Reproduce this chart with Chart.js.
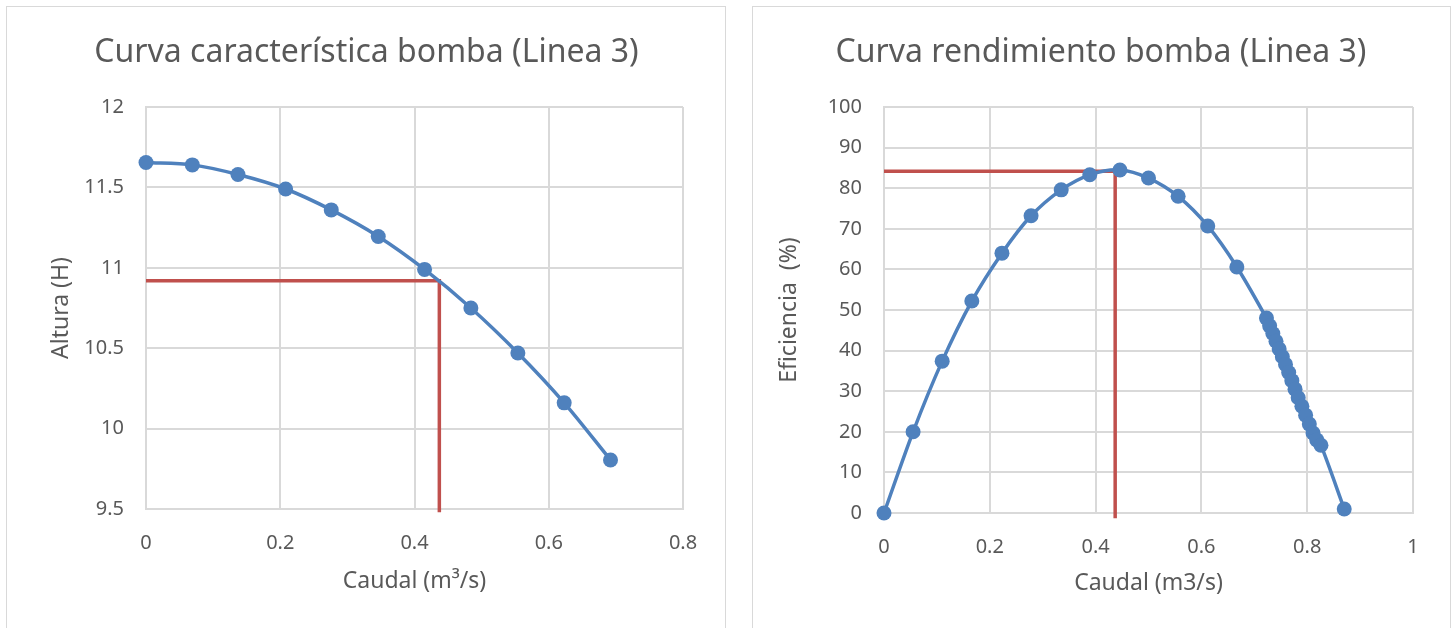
<!DOCTYPE html>
<html lang="es">
<head>
<meta charset="UTF-8">
<script src="https://cdn.jsdelivr.net/npm/chart.js"></script>
<style>
    body { margin: 0; background: #fff; font-family: "Noto Sans", sans-serif; }
    .frame { position: absolute; top: 6px; height: 640px; border: 1px solid #d9d9d9; background: #fff; }
    #frameLeft { left: 6px; width: 718px; }
    #frameRight { left: 752px; width: 697px; }
    canvas { position: absolute; top: 0; }
</style>
</head>
<body>
<div class="frame" id="frameLeft"><canvas id="headChart" width="719" height="622"></canvas></div>
<div class="frame" id="frameRight"><canvas id="effChart" width="696" height="622"></canvas></div>

<script>
// Curva característica: caudal (m³/s) vs altura (H)
const headQ = [0, 0.069, 0.137, 0.208, 0.276, 0.346, 0.415, 0.484, 0.554, 0.623, 0.692];
const headH = [11.655, 11.64, 11.58, 11.49, 11.36, 11.195, 10.99, 10.75, 10.47, 10.16, 9.805];
const headOpQ = [0, 0.437, 0.437];
const headOpH = [10.92, 10.92, 9.48];

// Curva de rendimiento: caudal (m3/s) vs eficiencia (%)
const effQ = [0, 0.055, 0.110, 0.166, 0.223, 0.278, 0.335, 0.389, 0.446, 0.500, 0.556, 0.612, 0.667,
    0.723, 0.729, 0.735, 0.741, 0.747, 0.753, 0.759, 0.765, 0.771, 0.777, 0.783, 0.790, 0.797, 0.804, 0.811, 0.818, 0.826,
    0.870];
const effE = [0, 20.0, 37.4, 52.2, 64.0, 73.2, 79.6, 83.3, 84.5, 82.5, 78.0, 70.7, 60.6,
    48.0, 46.1, 44.2, 42.3, 40.4, 38.5, 36.6, 34.6, 32.6, 30.5, 28.4, 26.3, 24.1, 21.9, 19.7, 18.0, 16.7,
    1.0];
const effOpQ = [0, 0.437, 0.437];
const effOpE = [84.2, 84.2, -1.3];

const blue = '#4f81bd';
const red = '#c0504d';
const grid = '#d9d9d9';
const text = '#595959';

Chart.defaults.font.family = '"Noto Sans", sans-serif';
Chart.defaults.color = text;
Chart.defaults.animation = false;

function toPoints(xs, ys) {
    return xs.map((x, i) => ({ x: x, y: ys[i] }));
}

// Excel style labels: 12, 0.2, 1 (no trailing zeros)
function tickLabel(v) {
    return String(Number(v.toFixed(2)));
}

function makeChart(id, cfg) {
    new Chart(document.getElementById(id), {
        type: 'scatter',
        data: {
            datasets: [{
                data: toPoints(cfg.opX, cfg.opY),
                showLine: true,
                borderColor: red,
                borderWidth: 3.5,
                pointRadius: 0,
                tension: 0,
                clip: false,
                order: 2
            }, {
                data: toPoints(cfg.x, cfg.y),
                showLine: true,
                borderColor: blue,
                backgroundColor: blue,
                borderWidth: 3.5,
                pointRadius: 7.5,
                pointBorderWidth: 0,
                tension: 0.3,
                clip: false,
                order: 1
            }]
        },
        options: {
            responsive: false,
            layout: { padding: { left: cfg.pad, right: cfg.pad } },
            plugins: {
                legend: { display: false },
                tooltip: { enabled: false },
                title: {
                    display: true,
                    text: cfg.title,
                    color: text,
                    font: { size: 32, weight: 'normal' },
                    padding: { top: 27, bottom: 34.6 }
                }
            },
            scales: {
                x: {
                    type: 'linear',
                    min: 0, max: cfg.xMax,
                    ticks: { stepSize: 0.2, padding: 22, font: { size: 20 }, color: text, callback: tickLabel },
                    grid: { color: grid, lineWidth: 2, drawTicks: false },
                    border: { color: grid, width: 2 },
                    title: { display: true, text: cfg.xTitle, color: text, font: { size: 23 }, padding: { top: 0, bottom: cfg.xTitlePad } },
                    afterFit: s => { s.height = cfg.xAxisH; }
                },
                y: {
                    min: cfg.yMin, max: cfg.yMax,
                    ticks: { stepSize: cfg.yStep, padding: 22, font: { size: 20 }, color: text, callback: tickLabel },
                    grid: { color: grid, lineWidth: 2, drawTicks: false },
                    border: { color: grid, width: 2 },
                    title: { display: true, text: cfg.yTitle, color: text, font: { size: 23, lineHeight: 1 }, padding: { top: cfg.yTitlePad, bottom: 0 } },
                    afterFit: s => { s.width = cfg.yAxisW; }
                }
            }
        }
    });
}

makeChart('headChart', {
    title: 'Curva característica bomba (Linea 3)',
    x: headQ, y: headH, opX: headOpQ, opY: headOpH,
    xMax: 0.8, yMin: 9.5, yMax: 12, yStep: 0.5,
    xTitle: 'Caudal (m³/s)', yTitle: 'Altura (H)',
    pad: 43, yAxisW: 96, xAxisH: 120,
    xTitlePad: 34, yTitlePad: -0.5
});

makeChart('effChart', {
    title: 'Curva rendimiento bomba (Linea 3)',
    x: effQ, y: effE, opX: effOpQ, opY: effOpE,
    xMax: 1, yMin: 0, yMax: 100, yStep: 10,
    xTitle: 'Caudal (m3/s)', yTitle: 'Eficiencia  (%)',
    pad: 36, yAxisW: 95, xAxisH: 116,
    xTitlePad: 32, yTitlePad: -11.5
});
</script>
</body>
</html>
